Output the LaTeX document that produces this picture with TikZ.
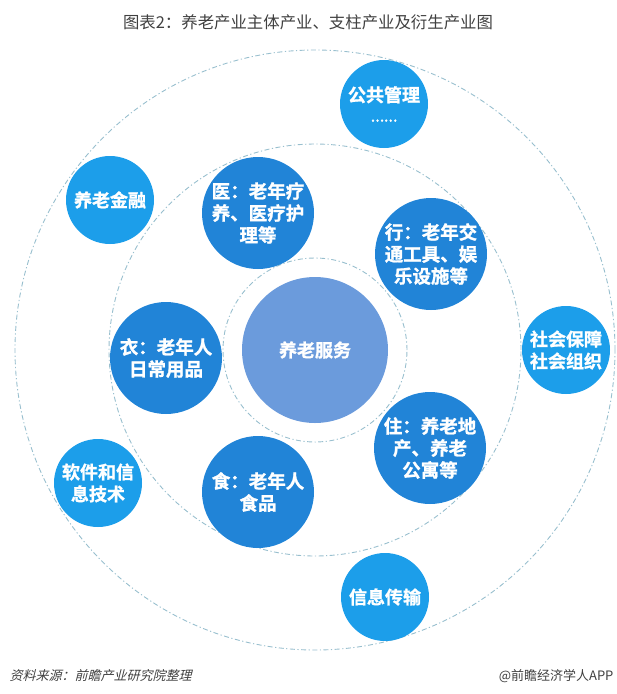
\documentclass[tikz,border=0pt]{standalone}
\usepackage{fontspec}
\setmainfont{Noto Sans CJK SC}[BoldFont={Noto Sans CJK SC Bold}, BoldFeatures={FakeBold=1.2}]
\newfontfamily\srcfont{Noto Sans CJK SC}[FakeSlant=0.25]
\definecolor{ringc}{HTML}{98BFCE}
\definecolor{corec}{HTML}{6B9BDC}
\definecolor{pillarc}{HTML}{2184D7}
\definecolor{derivc}{HTML}{1C9EEA}
\definecolor{textc}{HTML}{404040}
\tikzset{
  dashring/.style={circle, draw=ringc, line width=0.9pt, dash pattern=on 5pt off 2.5pt on 1.2pt off 2.5pt, minimum size=#1, inner sep=0pt},
  core/.style={circle, fill=corec, text=white, minimum size=146pt, inner sep=0pt, font=\bfseries\fontsize{18}{22}\selectfont},
  pillar/.style={circle, fill=pillarc, text=white, minimum size=112pt, inner sep=0pt, align=center, font=\bfseries\fontsize{18.5}{22}\selectfont},
  derived/.style={circle, fill=derivc, text=white, minimum size=88pt, inner sep=0pt, align=center, font=\bfseries\fontsize{18}{22}\selectfont}
}
\begin{document}
\begin{tikzpicture}[x=1pt, y=-1pt]
  \useasboundingbox (0,0) rectangle (617,694);
  \node [text=textc, font=\fontsize{16.4}{20}\selectfont] (title) at (308,22) {图表2：养老产业主体产业、支柱产业及衍生产业图};
  \node [dashring=600pt] (R3) at (315,350) {};
  \node [dashring=412pt] (R2) at (315,350) {};
  \node [dashring=184pt] (R1) at (315,350) {};
  \node [core] (C) at (315,350) {养老服务};
  \node [pillar] (yi) at (258,213) {医：老年疗\\养、医疗护\\理等};
  \node [pillar] (xing) at (431,254) {行：老年交\\通工具、娱\\乐设施等};
  \node [pillar] (yifu) at (166,358) {衣：老年人\\日常用品};
  \node [pillar] (zhu) at (430,448) {住：养老地\\产、养老\\公寓等};
  \node [pillar] (shi) at (258,492) {食：老年人\\食品};
  \node [derived] (gg) at (384,104) {公共管理\\[-2pt]{\fontsize{12}{12}\selectfont ……}};
  \node [derived] (jr) at (110,200) {养老金融};
  \node [derived] (sb) at (566,350) {社会保障\\社会组织};
  \node [derived] (rj) at (98,483) {软件和信\\息技术};
  \node [derived] (xx) at (385,597) {信息传输};
  \node [anchor=west, text=textc, font=\srcfont\fontsize{13}{16}\selectfont] (src) at (6,676) {资料来源：前瞻产业研究院整理};
  \node [anchor=east, text=textc, font=\fontsize{13}{16}\selectfont] (app) at (617,676) {@前瞻经济学人APP};
\end{tikzpicture}
\end{document}
